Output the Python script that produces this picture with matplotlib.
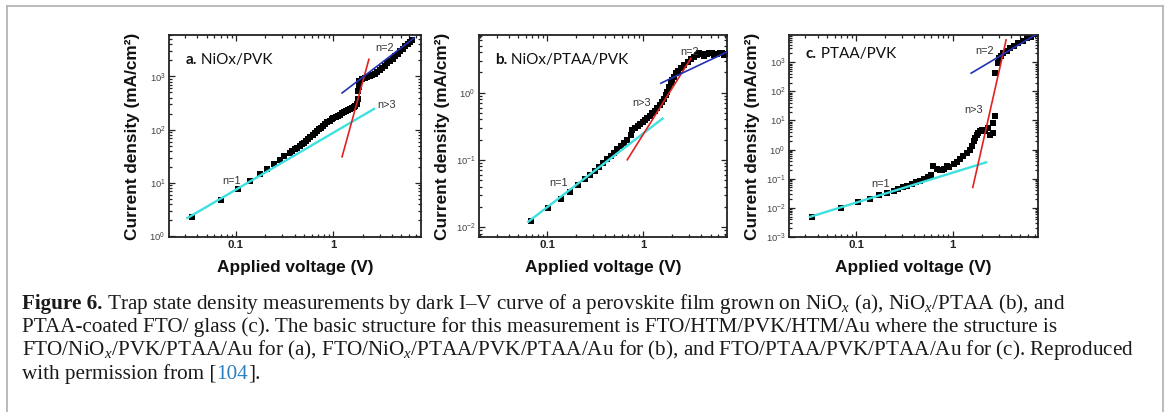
import numpy as np
import matplotlib
matplotlib.use('Agg')
import matplotlib.pyplot as plt
import matplotlib.ticker as mticker
from matplotlib import transforms as mtransforms
from matplotlib.lines import Line2D

plt.rcParams['font.family'] = ['Liberation Sans', 'DejaVu Sans']
plt.rcParams['mathtext.fontset'] = 'custom'
plt.rcParams['mathtext.rm'] = 'Liberation Serif'
plt.rcParams['mathtext.it'] = 'Liberation Serif:italic'
plt.rcParams['mathtext.bf'] = 'Liberation Serif:bold'

# ---- data ----
# a. NiOx/PVK
volt_a = [0.035, 0.07, 0.105, 0.138, 0.175, 0.21, 0.245, 0.28, 0.315, 0.358, 0.379,
          0.404, 0.427, 0.455, 0.477, 0.50, 0.525, 0.555, 0.582, 0.616, 0.646, 0.677,
          0.716, 0.75, 0.787, 0.826, 0.867, 0.916, 0.962, 1.0, 1.057, 1.11, 1.16, 1.23,
          1.29, 1.36, 1.43, 1.5, 1.56, 1.62, 1.69, 1.76, 1.8, 1.81, 1.83, 1.85, 1.98,
          2.11, 2.23, 2.38, 2.51, 2.66, 2.84, 3.0, 3.19, 3.38, 3.6, 3.8, 4.06, 4.29,
          4.57, 4.83, 5.15, 5.45, 5.8, 6.09, 6.37]
dens_a = [2.3, 4.8, 7.6, 10.9, 14.5, 18.2, 22.6, 26.8, 32, 37, 40, 43, 46, 50, 53, 57,
          62, 68, 74, 81, 88, 94, 103, 110, 119, 127, 139, 149, 158, 168, 177, 185, 193,
          205, 213, 226, 236, 246, 257, 268, 280, 301, 378, 541, 642, 830, 890, 930, 957,
          1000, 1059, 1130, 1222, 1331, 1472, 1603, 1772, 1960, 2162, 2427, 2683, 3008,
          3326, 3727, 4125, 4487, 4820]
fit_a_n1 = ([0.0317, 2.62], [2.2, 246])
fit_a_n3 = ([1.23, 2.32], [31, 2100])
fit_a_n2 = ([1.23, 6.8], [490, 5330])

# b. NiOx/PTAA/PVK
volt_b = [0.0675, 0.103, 0.139, 0.174, 0.21, 0.245, 0.28, 0.317, 0.35, 0.385, 0.42,
          0.46, 0.49, 0.53, 0.58, 0.63, 0.68, 0.74, 0.77, 0.81, 0.87, 0.916, 0.98, 1.03,
          1.1, 1.16, 1.24, 1.31, 1.4, 1.48, 1.58, 1.64, 1.71, 1.78, 1.85, 1.93, 2.0,
          2.09, 2.18, 2.3, 2.45, 2.66, 2.88, 3.12, 3.38, 3.61, 3.8, 4.04, 4.3, 4.59,
          4.85, 5.13, 5.47, 5.83, 6.2, 6.54, 6.95, 7.25]
dens_b = [0.0123, 0.019, 0.026, 0.0336, 0.0422, 0.0513, 0.0594, 0.069, 0.079, 0.0908,
          0.1017, 0.114, 0.128, 0.143, 0.161, 0.18, 0.2, 0.234, 0.278, 0.294, 0.319,
          0.342, 0.37, 0.396, 0.425, 0.455, 0.49, 0.54, 0.6, 0.66, 0.73, 0.81, 0.92,
          1.03, 1.23, 1.38, 1.54, 1.73, 1.94, 2.13, 2.3, 2.58, 2.9, 3.13, 3.44, 3.68,
          3.85, 3.72, 3.5, 3.72, 3.94, 3.85, 3.64, 3.72, 3.85, 3.85, 3.64, 3.77]
fit_b_n1 = ([0.0638, 1.58], [0.012, 0.41])
fit_b_n3 = ([0.68, 3.12], [0.1, 3.24])
fit_b_n2 = ([1.52, 7.55], [1.38, 4.08])

# c. PTAA/PVK
volt_c = [0.0348, 0.07, 0.106, 0.14, 0.174, 0.208, 0.245, 0.27, 0.305, 0.34, 0.377,
          0.417, 0.46, 0.5, 0.56, 0.6, 0.63, 0.68, 0.74, 0.77, 0.81, 0.87, 0.92, 1.02,
          1.1, 1.19, 1.29, 1.4, 1.49, 1.57, 1.64, 1.7, 1.78, 1.84, 1.92, 1.99, 2.16,
          2.34, 2.43, 2.63, 2.63, 2.74, 2.74, 2.9, 3.04, 3.14, 3.34, 3.62, 3.92, 4.3,
          4.77, 5.3, 5.8, 6.4, 7.1]
dens_c = [0.00485, 0.0096, 0.0155, 0.0206, 0.0268, 0.0323, 0.0378, 0.044, 0.0505,
          0.0575, 0.0656, 0.0748, 0.0853, 0.0974, 0.114, 0.137, 0.265, 0.214, 0.193,
          0.204, 0.214, 0.265, 0.251, 0.327, 0.363, 0.472, 0.583, 0.76, 1.0, 1.35, 1.9,
          2.5, 3.2, 3.68, 4.2, 4.79, 4.2, 5.46, 3.2, 3.68, 8.1, 14.5, 420, 925, 1370,
          1650, 2140, 2510, 3020, 3630, 4470, 5530, 6650, 7590, 9100]
fit_c_n1 = ([0.0334, 2.21], [0.00485, 0.363])
fit_c_n3 = ([1.61, 3.56], [0.05, 5840])
fit_c_n2 = ([1.55, 7.4], [420, 9300])

panel_tags = ['a.', 'b.', 'c.']
panel_names = ['NiOx/PVK', 'NiOx/PTAA/PVK', 'PTAA/PVK']
xlims = [(0.0205, 7.96), (0.0196, 7.4), (0.0203, 7.6)]
ylims = [(0.97, 6000), (0.0071, 7.2), (0.00099, 8600)]
ydecades = [range(0, 4), range(-2, 1), range(-3, 4)]

W, H = 1167, 412
fig = plt.figure(figsize=(W / 100, H / 100), dpi=100)
fig.patch.set_facecolor('white')

# frame of the figure box
frame = dict(color='#b5b5b5', lw=1.3, transform=fig.transFigure)
fig.add_artist(Line2D([7 / W, 7 / W], [0, 1 - 6 / H], **frame))
fig.add_artist(Line2D([7 / W, 1163 / W], [1 - 6 / H, 1 - 6 / H], **frame))
fig.add_artist(Line2D([1163 / W, 1163 / W], [0, 1 - 6 / H], **frame))

boxes = [(169, 421), (479, 727), (789, 1038)]
top, bot = 35, 237
series = [(volt_a, dens_a, fit_a_n1, fit_a_n3, fit_a_n2),
          (volt_b, dens_b, fit_b_n1, fit_b_n3, fit_b_n2),
          (volt_c, dens_c, fit_c_n1, fit_c_n3, fit_c_n2)]
# label spots in axes fraction: tag, n=1, n>3, n=2
spots = [[(0.064, 0.876), (0.249, 0.279), (0.864, 0.653), (0.857, 0.934)],
         [(0.064, 0.876), (0.319, 0.267), (0.656, 0.665), (0.847, 0.916)],
         [(0.067, 0.904), (0.368, 0.262), (0.743, 0.629), (0.787, 0.921)]]

rend = fig.canvas.get_renderer()

for i in range(3):
    x0, x1 = boxes[i]
    ax = fig.add_axes([x0 / W, 1 - bot / H, (x1 - x0) / W, (bot - top) / H])
    v, j, f1, f3, f2 = series[i]
    ax.plot(v, j, 's', color='k', ms=4.2, mew=0, zorder=2)
    ax.plot(f1[0], f1[1], color='#3fe0e0', lw=1.7, zorder=3)
    ax.plot(f3[0], f3[1], color='#e0221f', lw=1.2, zorder=3)
    ax.plot(f2[0], f2[1], color='#2232b4', lw=1.2, zorder=3)
    ax.set_xscale('log')
    ax.set_yscale('log')
    ax.set_xlim(*xlims[i])
    ax.set_ylim(*ylims[i])
    ax.set_xticks([0.1, 1], ['0.1', '1'])
    ax.xaxis.set_minor_locator(mticker.LogLocator(base=10, subs=np.arange(2, 10), numticks=100))
    ax.xaxis.set_minor_formatter(mticker.NullFormatter())
    ax.set_yticks([10.0 ** k for k in ydecades[i]])
    ax.yaxis.set_major_formatter(mticker.LogFormatterSciNotation())
    ax.yaxis.set_minor_locator(mticker.LogLocator(base=10, subs=np.arange(2, 10), numticks=100))
    ax.yaxis.set_minor_formatter(mticker.NullFormatter())
    ax.tick_params(which='both', direction='in', top=True, right=True, width=0.9, color='#222')
    ax.tick_params(which='major', length=4)
    ax.tick_params(which='minor', length=2)
    ax.tick_params(axis='y', labelsize=6.8, labelcolor='#444', pad=2.5)
    ax.tick_params(axis='x', labelsize=8.2, labelcolor='#222', pad=2)
    for lb in ax.get_xticklabels():
        lb.set_fontweight('bold')
    for s in ax.spines.values():
        s.set_linewidth(1.3)
        s.set_color('#222')
    ax.set_xlabel('Applied voltage (V)', fontsize=12.4, fontweight='bold', color='#111')
    ax.set_ylabel('Current density (mA/cm²)', fontsize=12.4, fontweight='bold', color='#111')
    ax.xaxis.set_label_coords(0.5, -23 / (bot - top))
    ax.yaxis.set_label_coords(-29 / (x1 - x0), 0.5)

    sp = spots[i]
    t1 = ax.text(sp[0][0], sp[0][1], panel_tags[i], transform=ax.transAxes, fontsize=11,
                 fontweight='bold', family=['Lato', 'DejaVu Sans'], va='center', color='#111')
    w = t1.get_window_extent(rend).width
    ax.text(sp[0][0], sp[0][1], ' ' + panel_names[i], fontsize=11, va='center', color='#111',
            family=['Lato', 'DejaVu Sans'],
            transform=mtransforms.offset_copy(ax.transAxes, fig=fig, x=w, units='dots'))
    for (px, py), s in zip(sp[1:], ['n=1', 'n>3', 'n=2']):
        ax.text(px, py, s, transform=ax.transAxes, fontsize=7.8, ha='center', va='center',
                color='#333')

# ---- caption ----
serif = ['Liberation Serif', 'DejaVu Serif']
lines = [
    [('Figure 6.', dict(fontweight='bold')),
     (' Trap state density measurements by dark I–V curve of a perovskite film grown on '
      'NiO$_x$ (a), NiO$_x$/PTAA (b), and', {})],
    [('PTAA-coated FTO/ glass (c). The basic structure for this measurement is '
      'FTO/HTM/PVK/HTM/Au where the structure is', {})],
    [('FTO/NiO$_x$/PVK/PTAA/Au for (a), FTO/NiO$_x$/PTAA/PVK/PTAA/Au for (b), and '
      'FTO/PTAA/PVK/PTAA/Au for (c). Reproduced', {})],
    [('with permission from [', {}), ('104', dict(color='#2a7fc0')), ('].', {})],
]
baselines = [308.5, 332, 355.5, 379]

# fit the size so the third line spans the same width as in the source
probe = fig.text(0, 0, lines[2][0][0], fontsize=12, family=serif)
cap_size = 12 * 1112 / probe.get_window_extent(rend).width
probe.remove()

for parts, yb in zip(lines, baselines):
    dx = 0
    for s, kw in parts:
        kw = dict(kw)
        col = kw.pop('color', '#1a1a1a')
        t = fig.text(22 / W, 1 - yb / H, s, fontsize=cap_size, family=serif, color=col,
                     va='baseline', ha='left',
                     transform=mtransforms.offset_copy(fig.transFigure, fig=fig, x=dx, units='dots'),
                     **kw)
        dx += t.get_window_extent(rend).width

fig.savefig('out.png', dpi=100, facecolor='white')
